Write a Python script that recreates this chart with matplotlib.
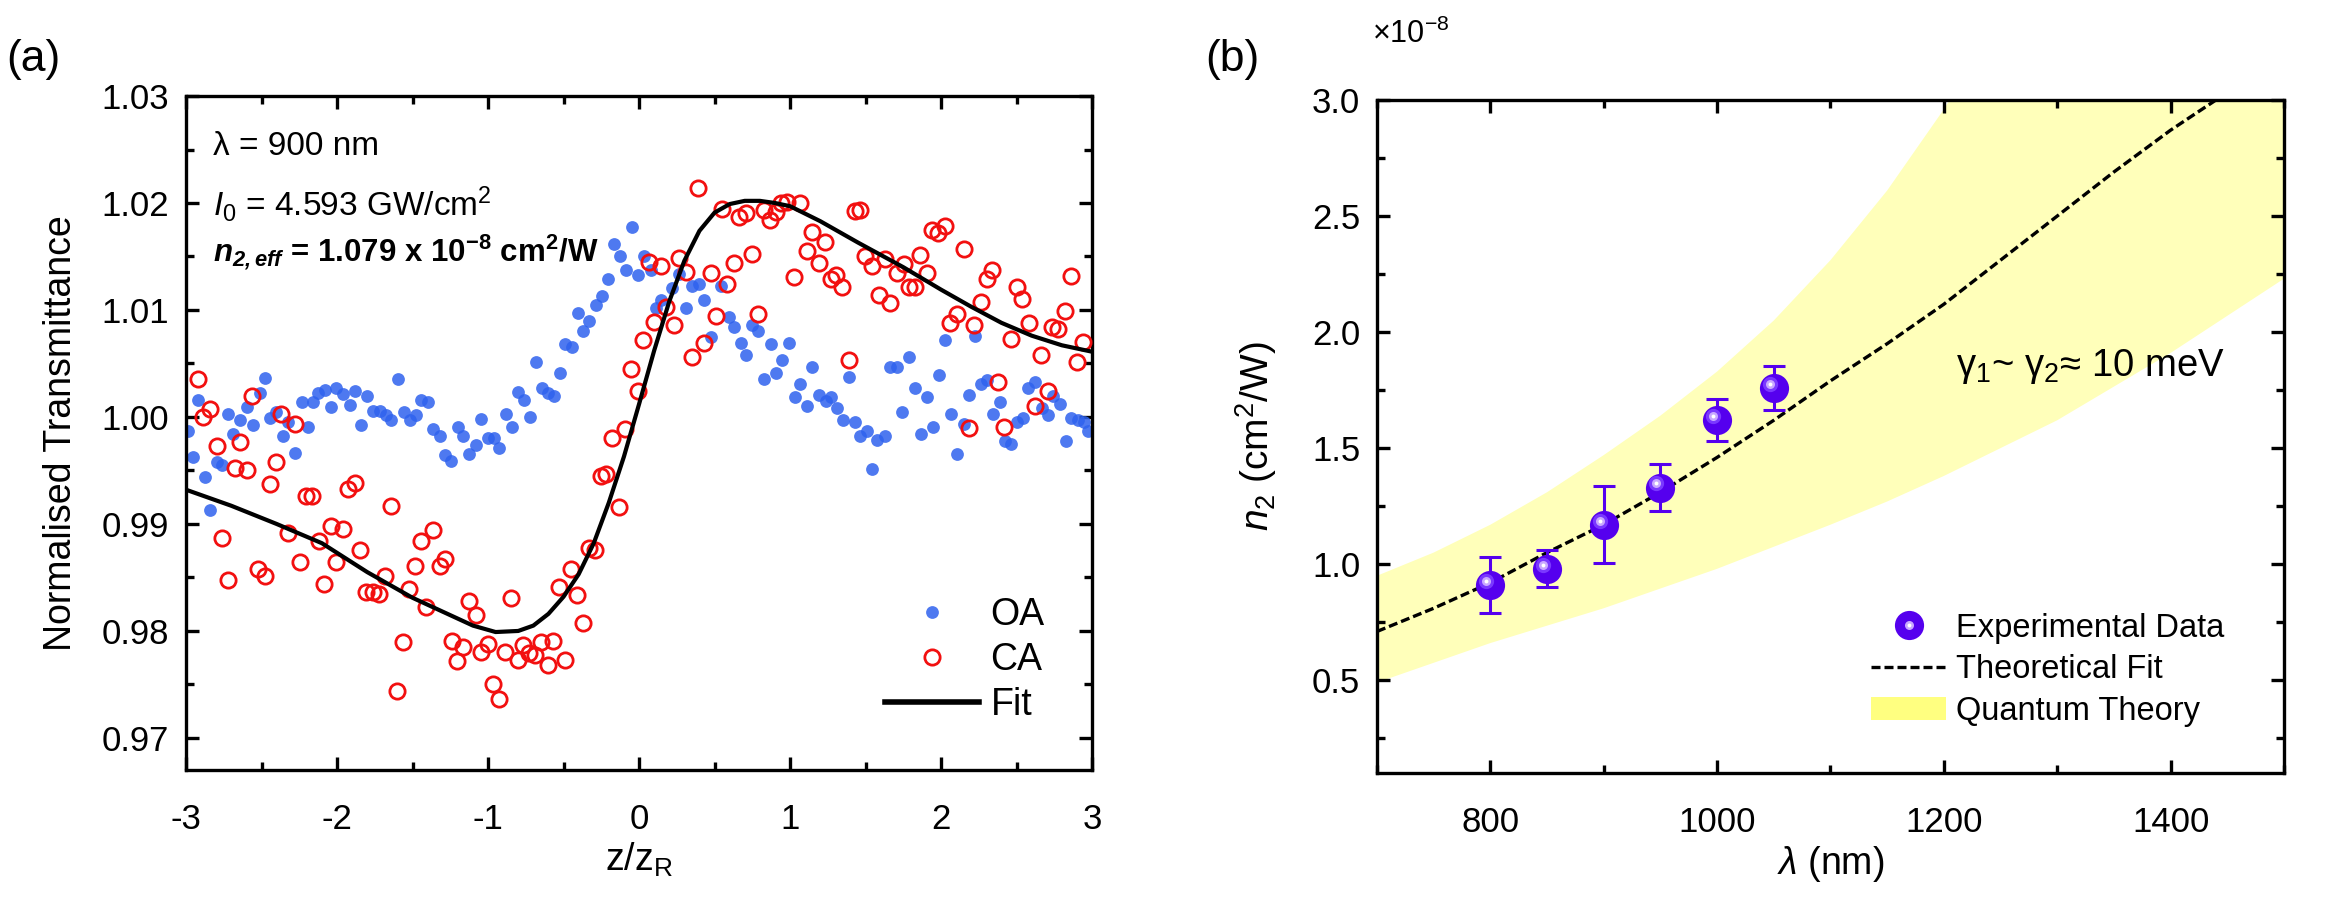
import numpy as np
import matplotlib
matplotlib.use('Agg')
import matplotlib.pyplot as plt
import matplotlib.transforms as mtransforms
from matplotlib.ticker import MultipleLocator, FormatStrFormatter
from matplotlib.lines import Line2D
from matplotlib.patches import Patch

plt.rcParams['font.family'] = ['Liberation Sans', 'DejaVu Sans']
plt.rcParams['mathtext.fontset'] = 'custom'
plt.rcParams['mathtext.rm'] = 'Liberation Sans'
plt.rcParams['mathtext.it'] = 'Liberation Sans:italic'
plt.rcParams['mathtext.bf'] = 'Liberation Sans:bold'
plt.rcParams['mathtext.bfit'] = 'Liberation Sans:italic:bold'
plt.rcParams['axes.unicode_minus'] = False

# ---- (a) Z-scan data ----
oa_z = [-2.985, -2.952, -2.919, -2.874, -2.841, -2.797, -2.764, -2.720, -2.687, -2.643,
        -2.599, -2.555, -2.511, -2.478, -2.445, -2.401, -2.357, -2.324, -2.280, -2.235,
        -2.192, -2.159, -2.126, -2.081, -2.037, -2.004, -1.960, -1.916, -1.883, -1.839,
        -1.801, -1.762, -1.718, -1.673, -1.640, -1.597, -1.559, -1.520, -1.475,
        -1.442, -1.398, -1.365, -1.321, -1.288, -1.244, -1.200, -1.167, -1.123, -1.079,
        -1.046, -1.002, -0.958, -0.925, -0.880, -0.841, -0.804, -0.759, -0.722, -0.682,
        -0.643, -0.605, -0.561, -0.524, -0.488, -0.444, -0.407, -0.370, -0.330, -0.286,
        -0.246, -0.204, -0.165, -0.127, -0.087, -0.044, -0.010, 0.034,
        0.078, 0.111, 0.144, 0.221, 0.265, 0.309, 0.353, 0.397, 0.430, 0.474,
        0.541, 0.595, 0.629, 0.673, 0.706, 0.750, 0.789, 0.827, 0.871, 0.908,
        0.948, 0.992, 1.032, 1.069, 1.109, 1.146, 1.190, 1.235, 1.272, 1.311,
        1.349, 1.389, 1.433, 1.466, 1.510, 1.543, 1.576,
        1.631, 1.664, 1.708, 1.741, 1.785, 1.829, 1.869, 1.906, 1.946, 1.988,
        2.028, 2.067, 2.105, 2.149, 2.182, 2.226, 2.266, 2.303, 2.347, 2.387,
        2.424, 2.464, 2.501, 2.545, 2.578, 2.623, 2.666, 2.706, 2.743, 2.788,
        2.825, 2.860, 2.904, 2.948, 2.970]
oa_t = [0.99871, 0.99629, 1.00161, 0.99436, 0.99129, 0.99581, 0.99549, 1.00032, 0.99839, 0.99968,
        1.00097, 0.99929, 1.00226, 1.00361, 0.99990, 1.00049, 0.99823, 0.99952, 0.99661, 1.00136,
        0.99910, 1.00136, 1.00226, 1.00252, 1.00090, 1.00274, 1.00219, 1.00113, 1.00242, 0.99929,
        1.00200, 1.00058, 1.00058, 1.00016, 0.99968, 1.00355, 1.00049, 0.99968, 1.00016,
        1.00161, 1.00136, 0.99887, 0.99823, 0.99645, 0.99587, 0.99910, 0.99823, 0.99652, 0.99742,
        0.99984, 0.99800, 0.99800, 0.99710, 1.00032, 0.99903, 1.00232, 1.00161, 1.00000, 1.00510,
        1.00274, 1.00226, 1.00200, 1.00410, 1.00678, 1.00652, 1.00968, 1.00807, 1.00897, 1.01049,
        1.01129, 1.01291, 1.01620, 1.01500, 1.01371, 1.01774, 1.01329, 1.01500,
        1.01371, 1.01016, 1.01097, 1.01210, 1.01339, 1.01016, 1.01226, 1.01242, 1.01097, 1.00749,
        1.01226, 1.00936, 1.00839, 1.00694, 1.00581, 1.00855, 1.00807, 1.00355, 1.00684, 1.00413,
        1.00532, 1.00694, 1.00187, 1.00307, 1.00103, 1.00468, 1.00210, 1.00145, 1.00187, 1.00081,
        0.99968, 1.00371, 0.99952, 0.99823, 0.99871, 0.99510, 0.99781,
        0.99823, 1.00468, 1.00468, 1.00049, 1.00565, 1.00274, 0.99839, 1.00187, 0.99903, 1.00394,
        1.00716, 1.00026, 0.99652, 0.99936, 1.00210, 1.00758, 1.00307, 1.00349, 1.00032, 1.00136,
        0.99774, 0.99749, 0.99952, 0.99994, 1.00274, 1.00329, 1.00081, 1.00016, 1.00194, 1.00123,
        0.99774, 0.99994, 0.99968, 0.99952, 0.99871]

ca_z = [-2.919, -2.885, -2.841, -2.797, -2.764, -2.720, -2.676, -2.643, -2.599, -2.566,
        -2.522, -2.478, -2.445, -2.405, -2.368, -2.324, -2.280, -2.245, -2.203, -2.163,
        -2.122, -2.085, -2.040, -2.004, -1.962, -1.927, -1.883, -1.848, -1.808, -1.764,
        -1.722, -1.682, -1.644, -1.600, -1.564, -1.522, -1.486, -1.442, -1.409, -1.365,
        -1.321, -1.282, -1.237, -1.207, -1.163, -1.123, -1.083, -1.046, -1.002, -0.964,
        -0.925, -0.885, -0.847, -0.804, -0.771, -0.726, -0.687, -0.649, -0.605, -0.568,
        -0.533, -0.488, -0.451, -0.414, -0.370, -0.334, -0.290, -0.253, -0.220, -0.176,
        -0.132, -0.093, -0.051, -0.010, 0.028, 0.067, 0.100, 0.144, 0.177, 0.232,
        0.265, 0.309, 0.353, 0.390, 0.430, 0.474, 0.507, 0.547, 0.584, 0.629,
        0.662, 0.706, 0.745, 0.789, 0.827, 0.864, 0.904, 0.937, 0.981, 1.025,
        1.069, 1.113, 1.146, 1.190, 1.230, 1.268, 1.305, 1.344, 1.389, 1.433,
        1.466, 1.499, 1.543, 1.587, 1.627, 1.664, 1.708, 1.752, 1.785, 1.825,
        1.862, 1.906, 1.939, 1.983, 2.028, 2.061, 2.105, 2.149, 2.182, 2.221,
        2.266, 2.303, 2.340, 2.380, 2.420, 2.464, 2.501, 2.539, 2.583, 2.623,
        2.662, 2.706, 2.737, 2.777, 2.821, 2.860, 2.898, 2.942]
ca_t = [1.00355, 1.00000, 1.00071, 0.99726, 0.98871, 0.98474, 0.99523, 0.99768, 0.99500, 1.00194,
        0.98578, 0.98512, 0.99374, 0.99581, 1.00032, 0.98919, 0.99936, 0.98640, 0.99258, 0.99258,
        0.98845, 0.98437, 0.98978, 0.98640, 0.98955, 0.99323, 0.99381, 0.98757, 0.98360, 0.98364,
        0.98350, 0.98512, 0.99165, 0.97435, 0.97901, 0.98396, 0.98610, 0.98837, 0.98227, 0.98944,
        0.98607, 0.98670, 0.97909, 0.97722, 0.97853, 0.98283, 0.98150, 0.97807, 0.97879, 0.97505,
        0.97362, 0.97807, 0.98305, 0.97729, 0.97869, 0.97791, 0.97776, 0.97900, 0.97682, 0.97909,
        0.98414, 0.97729, 0.98576, 0.98336, 0.98072, 0.98773, 0.98757, 0.99445, 0.99468, 0.99804,
        0.99160, 0.99883, 1.00449, 1.00245, 1.00723, 1.01444, 1.00891, 1.01411, 1.01031, 1.00860,
        1.01483, 1.01358, 1.00564, 1.02140, 1.00689, 1.01343, 1.00944, 1.01941, 1.01243, 1.01436,
        1.01872, 1.01909, 1.01523, 1.00963, 1.01935, 1.01841, 1.01919, 1.01997, 1.02012, 1.01306,
        1.02003, 1.01554, 1.01732, 1.01436, 1.01638, 1.01287, 1.01327, 1.01212, 1.00533, 1.01928,
        1.01935, 1.01505, 1.01411, 1.01140, 1.01474, 1.01062, 1.01343, 1.01430, 1.01218, 1.01218,
        1.01514, 1.01343, 1.01748, 1.01717, 1.01785, 1.00875, 1.00963, 1.01567, 0.99894, 1.00860,
        1.01078, 1.01287, 1.01374, 1.00330, 0.99903, 1.00726, 1.01218, 1.01100, 1.00882, 1.00103,
        1.00579, 1.00246, 1.00838, 1.00819, 1.00994, 1.01318, 1.00517, 1.00704]

fit_z = [-3.0, -2.7, -2.4, -2.1, -1.8, -1.5, -1.3, -1.1, -0.95, -0.8, -0.7, -0.6, -0.5,
         -0.4, -0.3, -0.2, -0.1, 0.0, 0.1, 0.2, 0.3, 0.4, 0.5, 0.6, 0.7, 0.8, 0.9, 1.0,
         1.2, 1.45, 1.75, 2.0, 2.2, 2.4, 2.6, 2.8, 3.0]
fit_t = [0.9932, 0.9917, 0.9900, 0.9882, 0.9855, 0.9831, 0.9818, 0.9805, 0.9799, 0.9800,
         0.9805, 0.9816, 0.9832, 0.9853, 0.9882, 0.9920, 0.9963, 1.0012, 1.0062, 1.0108,
         1.0146, 1.0174, 1.0191, 1.0199, 1.0202, 1.0202, 1.0200, 1.0197, 1.0183, 1.0163,
         1.0140, 1.0119, 1.0103, 1.0088, 1.0076, 1.0067, 1.0061]

# ---- (b) n2 vs wavelength (units of 1e-8 cm^2/W) ----
lam_exp = [800, 850, 900, 950, 1000, 1050]
n2_exp = [0.91, 0.98, 1.17, 1.33, 1.62, 1.76]
n2_err = [0.12, 0.08, 0.165, 0.10, 0.09, 0.095]

lam_fit = [700, 750, 800, 850, 900, 950, 1000, 1050, 1100, 1150, 1200, 1250, 1300, 1350, 1400, 1440]
n2_fit = [0.71, 0.81, 0.92, 1.05, 1.17, 1.31, 1.46, 1.62, 1.79, 1.95, 2.12, 2.31, 2.50, 2.69, 2.87, 3.0]

lam_band = [700, 750, 800, 850, 900, 950, 1000, 1050, 1100, 1150, 1200, 1250, 1300, 1400, 1500]
band_lo = [0.49, 0.575, 0.66, 0.735, 0.81, 0.895, 0.98, 1.075, 1.17, 1.27, 1.38, 1.50, 1.62, 1.91, 2.23]
band_hi = [0.95, 1.05, 1.17, 1.31, 1.47, 1.64, 1.83, 2.05, 2.31, 2.61, 2.96, 3.35, 3.75, 4.6, 5.5]

blue = '#2F62EE'
red = '#F21010'
purple = '#5500EE'

fig = plt.figure(figsize=(23.43, 9.10), dpi=100)
ax1 = fig.add_axes([0.0794, 0.1538, 0.3867, 0.7407])
ax2 = fig.add_axes([0.5877, 0.1505, 0.3871, 0.7396])

for ax in (ax1, ax2):
    for s in ax.spines.values():
        s.set_linewidth(2.4)
    ax.tick_params(which='both', direction='in', top=True, right=True, width=2.4, labelsize=25)
    ax.tick_params(which='major', length=9.5)
    ax.tick_params(which='minor', length=5.5)
    ax.tick_params(axis='y', pad=12)
    ax.tick_params(axis='x', pad=24)

# panel (a)
ax1.plot(oa_z, oa_t, 'o', ms=9.2, color=blue, alpha=0.85, mec='none', label='OA', zorder=2)
ax1.plot(ca_z, ca_t, 'o', ms=11, mfc='none', mec=red, mew=2.0, label='CA', zorder=3)
ax1.plot(fit_z, fit_t, '-', color='black', lw=3.0, label='Fit', zorder=4)
ax1.set_xlim(-3, 3)
ax1.set_ylim(0.967, 1.03)
ax1.xaxis.set_major_locator(MultipleLocator(1))
ax1.xaxis.set_minor_locator(MultipleLocator(0.5))
ax1.yaxis.set_major_locator(MultipleLocator(0.01))
ax1.yaxis.set_minor_locator(MultipleLocator(0.005))
ax1.yaxis.set_major_formatter(FormatStrFormatter('%.2f'))
ax1.set_ylabel('Normalised Transmittance', fontsize=27)
ax1.set_xlabel('z/z$_\\mathregular{R}$', fontsize=27)
ax1.yaxis.set_label_coords(-0.118, 0.5)
ax1.xaxis.set_label_coords(0.5, -0.105)

h_oa = Line2D([], [], ls='none', marker='o', ms=9.2, color=blue, alpha=0.85, mec='none')
h_ca = Line2D([], [], ls='none', marker='o', ms=11, mfc='none', mec=red, mew=2.0)
h_fit = Line2D([], [], color='black', lw=4.0)
ax1.legend([h_oa, h_ca, h_fit], ['OA', 'CA', 'Fit'], loc='upper left',
           bbox_to_anchor=(0.772, 0.256), frameon=False, fontsize=27,
           handlelength=2.5, handletextpad=0.3, labelspacing=0.24,
           borderpad=0, borderaxespad=0)

ax1.text(0.030, 0.913, '\u03bb = 900 nm', transform=ax1.transAxes, fontsize=24, va='baseline')
ax1.text(0.030, 0.822, '$I_0$ = 4.593 GW/cm$^2$', transform=ax1.transAxes, fontsize=24, va='baseline')
ax1.text(0.030, 0.755, '$\\mathbfit{n}_{\\mathbfit{2,eff}}$ = 1.079 x 10$^{\\mathbf{-8}}$ cm$^{\\mathbf{2}}$/W',
         transform=ax1.transAxes, fontsize=22.5, fontweight='bold', va='baseline')

fig.text(0.0025, 0.935, '(a)', fontsize=32, ha='left', va='center')
fig.text(0.5145, 0.935, '(b)', fontsize=32, ha='left', va='center')

# panel (b)
ax2.fill_between(lam_band, band_lo, band_hi, color='#FFFF66', alpha=0.45, lw=0, zorder=1)
ax2.plot(lam_fit, n2_fit, color='black', lw=2.4, ls=(0, (2.7, 1.2)), zorder=3)
ax2.errorbar(lam_exp, n2_exp, yerr=n2_err, fmt='none', ecolor=purple, elinewidth=2.2,
             capsize=8, capthick=2.2, zorder=4)
ax2.plot(lam_exp, n2_exp, 'o', ms=21, color=purple, mec='none', zorder=5)
hl = mtransforms.offset_copy(ax2.transData, fig=fig, x=-3, y=3, units='points')
ax2.plot(lam_exp, n2_exp, 'o', ms=11, color='#7A38FF', mec='none', transform=hl, zorder=6)
ax2.plot(lam_exp, n2_exp, 'o', ms=6.5, color='#C9A8FF', mec='none', transform=hl, zorder=7)
ax2.plot(lam_exp, n2_exp, 'o', ms=2.8, color='white', mec='none', transform=hl, zorder=8)

ax2.set_xlim(700, 1500)
ax2.set_ylim(0.1, 3.0)
ax2.xaxis.set_major_locator(MultipleLocator(200))
ax2.xaxis.set_minor_locator(MultipleLocator(100))
ax2.yaxis.set_major_locator(MultipleLocator(0.5))
ax2.yaxis.set_minor_locator(MultipleLocator(0.25))
ax2.yaxis.set_major_formatter(FormatStrFormatter('%.1f'))
ax2.set_ylabel('$n_2$ (cm$^2$/W)', fontsize=28)
ax2.set_xlabel('$\\lambda$ (nm)', fontsize=27)
ax2.yaxis.set_label_coords(-0.108, 0.5)
ax2.xaxis.set_label_coords(0.5, -0.105)
ax2.text(-0.006, 1.085, '\u00d710$^{-8}$', transform=ax2.transAxes, fontsize=22, va='baseline')
ax2.text(0.638, 0.59, '\u03b3$_1$~ \u03b3$_2$\u2248 10 meV', transform=ax2.transAxes,
         fontsize=27.5, va='baseline')

h_exp = (Line2D([], [], ls='none', marker='o', ms=21, color=purple, mec='none'),
         Line2D([], [], ls='none', marker='o', ms=6.5, color='#C9A8FF', mec='none'),
         Line2D([], [], ls='none', marker='o', ms=2.8, color='white', mec='none'))
h_tf = Line2D([], [], color='black', lw=2.4, ls=(0, (2.7, 1.2)))
h_qt = Patch(facecolor='#FFFF80', edgecolor='none')
ax2.legend([h_exp, h_tf, h_qt], ['Experimental Data', 'Theoretical Fit', 'Quantum Theory'],
           loc='upper left', bbox_to_anchor=(0.545, 0.238), frameon=False, fontsize=23.5,
           handlelength=2.3, handletextpad=0.3, labelspacing=0.32,
           borderpad=0, borderaxespad=0)

fig.savefig('out.png', dpi=100)
